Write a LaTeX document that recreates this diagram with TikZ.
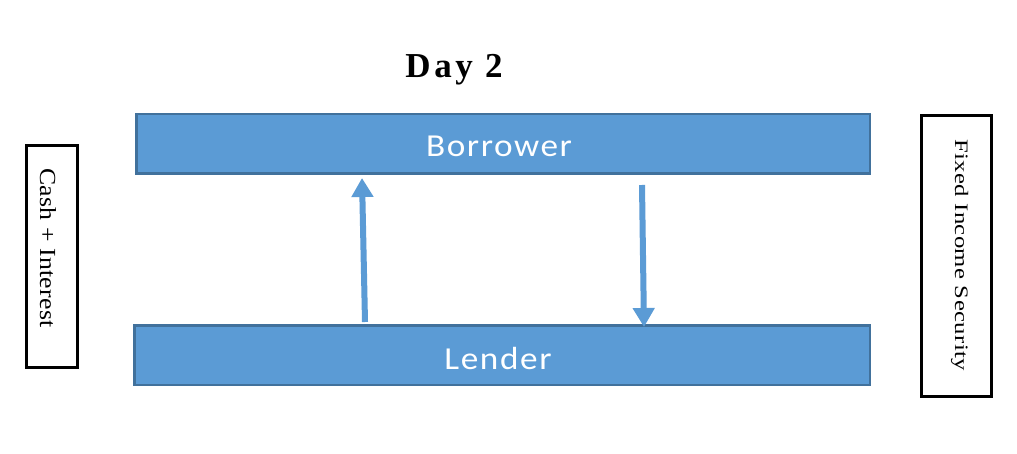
\documentclass[tikz,border=0pt]{standalone}
\usepackage{fontspec}
\usetikzlibrary{arrows.meta}
\newfontfamily\boxfont[LetterSpace=5,FakeStretch=1.1]{Carlito}
\newfontfamily\titlefont[LetterSpace=10]{Liberation Serif}
\newfontfamily\cashfont[LetterSpace=1,FakeStretch=1.12]{Liberation Serif}
\newfontfamily\fixfont[LetterSpace=2,FakeStretch=1.3]{Liberation Serif}
\definecolor{boxblue}{HTML}{5B9BD5}
\definecolor{boxedge}{HTML}{41719C}
\tikzset{
  party/.style={draw=boxedge, fill=boxblue, line width=2.5pt, rectangle, inner sep=0pt,
    minimum height=59.5pt, text=white, font=\boxfont\fontsize{32}{36}\selectfont, text depth=0pt},
  sidebox/.style={draw=black, line width=3pt, rectangle, inner sep=0pt, fill=white},
  sidetext/.style={rotate=-90, anchor=base, inner sep=0pt},
  flow/.style={draw=boxblue, line width=6pt, -{Triangle[length=19pt,width=21pt]}}
}
\begin{document}
\begin{tikzpicture}[x=1pt,y=-1pt]
\useasboundingbox[fill=white] (0,0) rectangle (1017,454);
\node[anchor=base, inner sep=0pt, font=\titlefont\bfseries\fontsize{35}{40}\selectfont] (title) at (454,78) {Day 2};
\node[party, minimum width=733.5pt, text height=25pt] (borrower) at (503,144) {Borrower\kern8pt};
\node[party, minimum width=735.5pt, text height=28pt] (lender) at (502,355) {Lender\kern8pt};
\node[sidebox, minimum width=51pt, minimum height=222pt] (cashbox) at (52,256.5) {};
\node[sidetext, font=\cashfont\fontsize{23}{26}\selectfont] (cash) at (40,248) {Cash + Interest};
\node[sidebox, minimum width=70pt, minimum height=281pt] (fixbox) at (956.5,256) {};
\node[sidetext, font=\fixfont\fontsize{19}{24}\selectfont] (fix) at (955,255) {Fixed Income Security};
\coordinate (uptip) at (362,178);
\coordinate (downstart) at (642,185);
\draw[flow] ([xshift=-137pt,yshift=2pt]lender.north) -- (uptip);
\draw[flow] (downstart) -- ([xshift=142pt,yshift=-3pt]lender.north);
\end{tikzpicture}
\end{document}
